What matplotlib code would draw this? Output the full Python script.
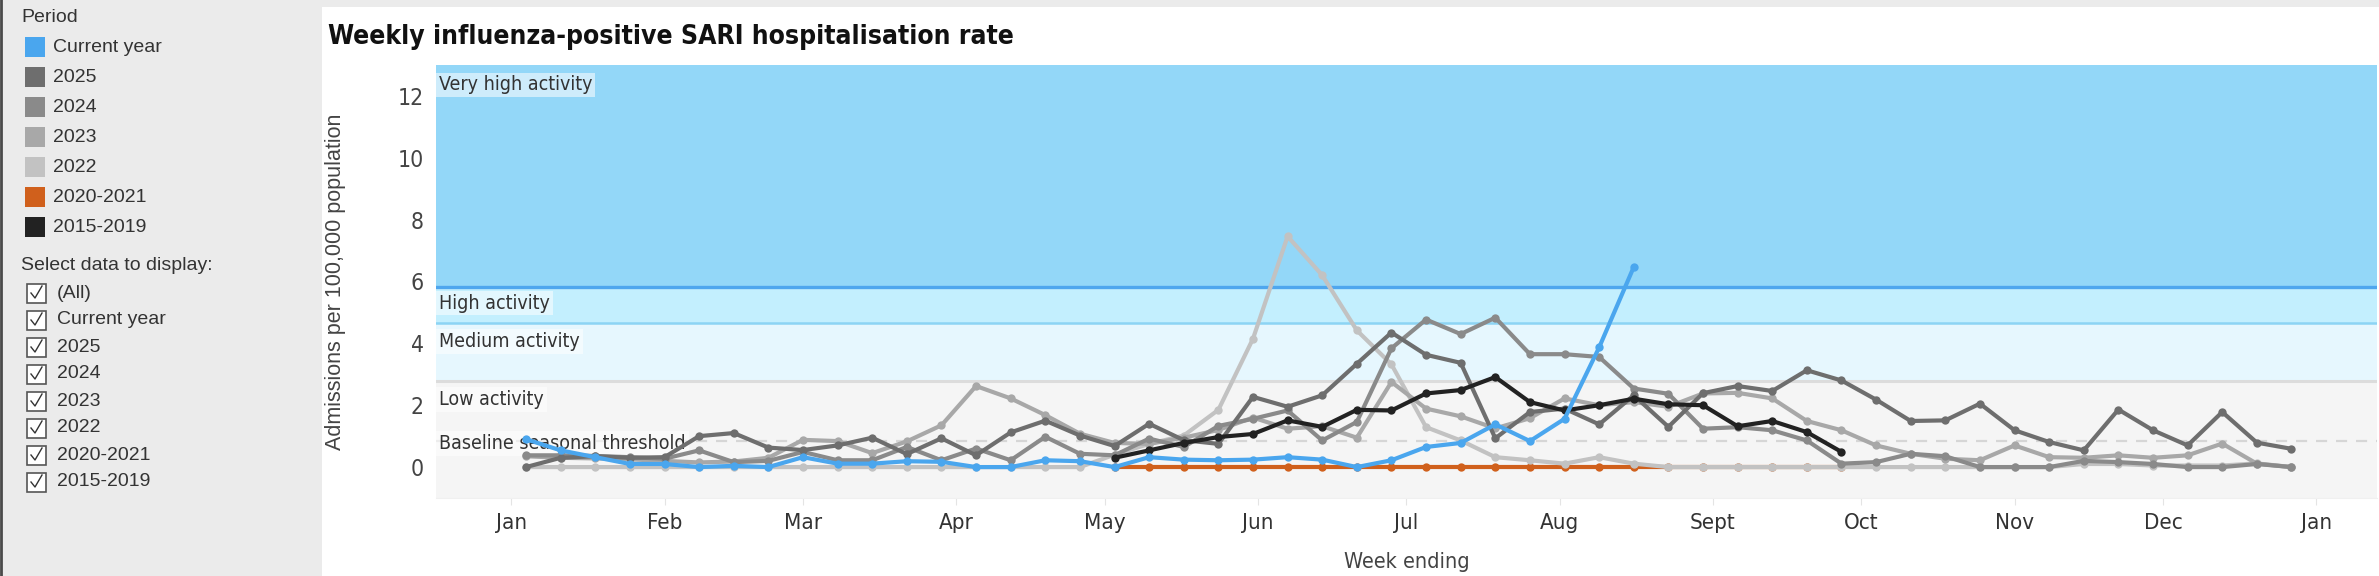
import matplotlib
matplotlib.use("Agg")
import matplotlib.pyplot as plt
import matplotlib.dates as mdates
from matplotlib.patches import Rectangle
from matplotlib.ticker import FuncFormatter
import pandas as pd

# weekly values, admissions per 100,000 population
week_ending = pd.date_range("2025-01-04", periods=52, freq="7D")

current_year = [0.9, 0.54, 0.32, 0.1, 0.1, 0.0, 0.04, 0.0, 0.32, 0.11, 0.11, 0.19, 0.17,
                0.0, 0.0, 0.22, 0.19, 0.0, 0.32, 0.24, 0.22, 0.24, 0.32, 0.24, 0.0, 0.22,
                0.65, 0.78, 1.38, 0.84, 1.56, 3.87, 6.47]
y2025 = [0.0, 0.3, 0.35, 0.3, 0.32, 1.0, 1.1, 0.63, 0.55, 0.7, 0.95, 0.42, 0.93, 0.38,
         1.12, 1.5, 1.02, 0.68, 1.4, 0.87, 0.75, 2.27, 1.95, 2.32, 3.34, 4.35, 3.63, 3.37,
         0.93, 1.78, 1.89, 1.38, 2.32, 1.3, 2.39, 2.62, 2.46, 3.13, 2.8, 2.18, 1.49, 1.51,
         2.05, 1.19, 0.81, 0.54, 1.86, 1.19, 0.7, 1.78, 0.79, 0.59]
y2024 = [0.38, 0.38, 0.36, 0.32, 0.27, 0.54, 0.16, 0.2, 0.49, 0.22, 0.22, 0.65, 0.22, 0.6,
         0.22, 0.98, 0.43, 0.38, 0.92, 0.65, 1.33, 1.56, 1.83, 0.86, 1.46, 3.84, 4.77, 4.3,
         4.83, 3.65, 3.65, 3.56, 2.54, 2.37, 1.24, 1.29, 1.19, 0.86, 0.11, 0.16, 0.43, 0.35,
         0.0, 0.0, 0.0, 0.2, 0.16, 0.1, 0.0, 0.0, 0.1, 0.0]
y2023 = [0.35, 0.3, 0.28, 0.25, 0.2, 0.15, 0.18, 0.3, 0.88, 0.84, 0.45, 0.83, 1.35, 2.62,
         2.22, 1.68, 1.08, 0.78, 0.75, 0.95, 1.2, 1.6, 1.24, 1.32, 0.95, 2.75, 1.89, 1.64,
         1.25, 1.58, 2.22, 2.0, 2.1, 1.95, 2.38, 2.4, 2.22, 1.49, 1.19, 0.7, 0.43, 0.27,
         0.22, 0.7, 0.32, 0.3, 0.38, 0.3, 0.38, 0.76, 0.11, 0.0]
y2022 = [0.0, 0.0, 0.0, 0.0, 0.0, 0.0, 0.0, 0.0, 0.0, 0.0, 0.0, 0.0, 0.0, 0.0, 0.0, 0.0,
         0.0, 0.4, 0.75, 1.02, 1.85, 4.15, 7.46, 6.2, 4.42, 3.32, 1.29, 0.86, 0.32, 0.22,
         0.11, 0.32, 0.11, 0.0, 0.0, 0.0, 0.0, 0.0, 0.0, 0.0, 0.0, 0.0, 0.0, 0.0, 0.0, 0.1,
         0.1, 0.05, 0.05, 0.05, 0.12, 0.0]
y2020_2021 = [0.0, 0.0, 0.0, 0.0, 0.0, 0.0, 0.0, 0.0, 0.0, 0.0, 0.0,
              0.0, 0.0, 0.0, 0.0, 0.0, 0.0, 0.0, 0.0, 0.0, 0.0, 0.0]
y2015_2019 = [0.3, 0.54, 0.78, 0.97, 1.07, 1.51, 1.3, 1.85, 1.83, 2.38, 2.49, 2.91, 2.1,
              1.83, 2.0, 2.21, 2.03, 2.0, 1.32, 1.49, 1.13, 0.49]
historic_start = 17  # first week shown for 2015-2019 and 2020-2021

# activity thresholds
baseline = 0.84
low_max = 2.78
medium_max = 4.65
high_max = 5.82

periods = ["Current year", "2025", "2024", "2023", "2022", "2020-2021", "2015-2019"]
colors = {"Current year": "#4aa6ee", "2025": "#6e6e6e", "2024": "#8a8a8a",
          "2023": "#a8a8a8", "2022": "#c2c2c2", "2020-2021": "#d0601c",
          "2015-2019": "#222222"}
month_names = ["Jan", "Feb", "Mar", "Apr", "May", "Jun", "Jul", "Aug", "Sept",
               "Oct", "Nov", "Dec"]

plain = ["Liberation Sans", "DejaVu Sans"]
narrow = dict(family="DejaVu Sans", fontstretch="condensed")

W, H = 2379, 576
fig = plt.figure(figsize=(W / 100, H / 100), dpi=100, facecolor="#ebebeb")

# background panel + legend, in pixel coordinates
bg = fig.add_axes([0, 0, 1, 1], zorder=0)
bg.set_xlim(0, W)
bg.set_ylim(H, 0)
bg.axis("off")
bg.add_patch(Rectangle((322, 7), W - 322, H - 7, facecolor="white", edgecolor="none"))
bg.plot([1, 1], [0, H], color="#4a4a4a", lw=2)

bg.text(21, 18, "Period", fontsize=14, family=plain, color="#333333", va="center")
for i, name in enumerate(periods):
    yc = 47 + 30 * i
    bg.add_patch(Rectangle((25, yc - 10), 20, 20, facecolor=colors[name], edgecolor="none"))
    bg.text(53, yc, name, fontsize=14, family=plain, color="#333333", va="center")

bg.text(21, 265, "Select data to display:", fontsize=14, family=plain, color="#333333",
        va="center")
for i, name in enumerate(["(All)"] + periods):
    yc = 293 + 27 * i
    bg.add_patch(Rectangle((27, yc - 9), 19, 19, facecolor="white", edgecolor="#555555",
                           lw=1.2))
    bg.plot([31, 35, 42], [yc, yc + 5, yc - 7], color="#333333", lw=1)
    bg.text(57, yc, name, fontsize=14, family=plain, color="#333333", va="center")

bg.text(328, 37, "Weekly influenza-positive SARI hospitalisation rate", fontsize=19,
        fontweight="bold", color="#111111", va="center", **narrow)

# main chart
ax = fig.add_axes([436 / W, 78 / H, 1941 / W, 433 / H], zorder=1)
ax.set_facecolor("white")
ax.set_ylim(-1.0, 13.0)
ax.set_xlim(pd.Timestamp("2024-12-16 19:00"), pd.Timestamp("2026-01-13 07:00"))

ax.axhspan(-1.0, low_max, color="#f5f5f5", lw=0, zorder=0)
ax.axhspan(low_max, medium_max, color="#e6f7fe", lw=0, zorder=0)
ax.axhspan(medium_max, high_max, color="#c3effe", lw=0, zorder=0)
ax.axhspan(high_max, 13.0, color="#93d7f8", lw=0, zorder=0)
ax.axhline(low_max, color="#dcdcdc", lw=2.2, zorder=1)
ax.axhline(medium_max, color="#8cd4f4", lw=1.8, zorder=1)
ax.axhline(high_max, color="#4ea6ee", lw=2.4, zorder=1)
ax.axhline(baseline, color="#d6d6d6", lw=1.6, ls=(0, (5, 4)), zorder=1)

band_labels = [("Very high activity", 13.0, -20), ("High activity", high_max, -16),
               ("Medium activity", medium_max, -18), ("Low activity", low_max, -18),
               ("Baseline seasonal threshold", baseline, -2)]
for text, yv, dy in band_labels:
    ax.annotate(text, xy=(0, yv), xycoords=("axes fraction", "data"),
                xytext=(3, dy), textcoords="offset pixels", fontsize=14,
                color="#333333", va="center", ha="left", zorder=2,
                bbox=dict(boxstyle="square,pad=0.15", facecolor="white", alpha=0.55,
                          edgecolor="none"), **narrow)

series = [("2020-2021", y2020_2021, historic_start), ("2022", y2022, 0),
          ("2023", y2023, 0), ("2024", y2024, 0), ("2025", y2025, 0),
          ("2015-2019", y2015_2019, historic_start), ("Current year", current_year, 0)]
for z, (name, vals, start) in enumerate(series):
    dates = week_ending[start:start + len(vals)]
    ax.plot(dates, vals, color=colors[name], lw=3.0, marker="o", markersize=6,
            markeredgewidth=0, solid_joinstyle="round", zorder=3 + z)

ax.xaxis.set_major_locator(mdates.MonthLocator())
ax.xaxis.set_major_formatter(FuncFormatter(
    lambda v, pos: month_names[mdates.num2date(v).month - 1]))
ax.tick_params(axis="x", length=5, color="#e4e4e4", pad=6, labelsize=16,
               labelcolor="#333333")
ax.tick_params(axis="y", length=0, pad=9, labelsize=16.5, labelcolor="#444444")
ax.set_yticks([0, 2, 4, 6, 8, 10, 12])
for lab in ax.get_xticklabels() + ax.get_yticklabels():
    lab.set_family(narrow["family"])
    lab.set_fontstretch(narrow["fontstretch"])

for side in ["top", "right", "left"]:
    ax.spines[side].set_visible(False)
ax.spines["bottom"].set_color("#f0f0f0")

ax.set_ylabel("Admissions per 100,000 population", fontsize=15.5, family=plain,
              color="#444444")
ax.yaxis.set_label_coords(-0.0464, 0.5)
ax.set_xlabel("Week ending", fontsize=15.5, color="#444444", **narrow)
ax.xaxis.set_label_coords(0.5, -0.125)

fig.savefig("out.png", dpi=100, facecolor=fig.get_facecolor())
